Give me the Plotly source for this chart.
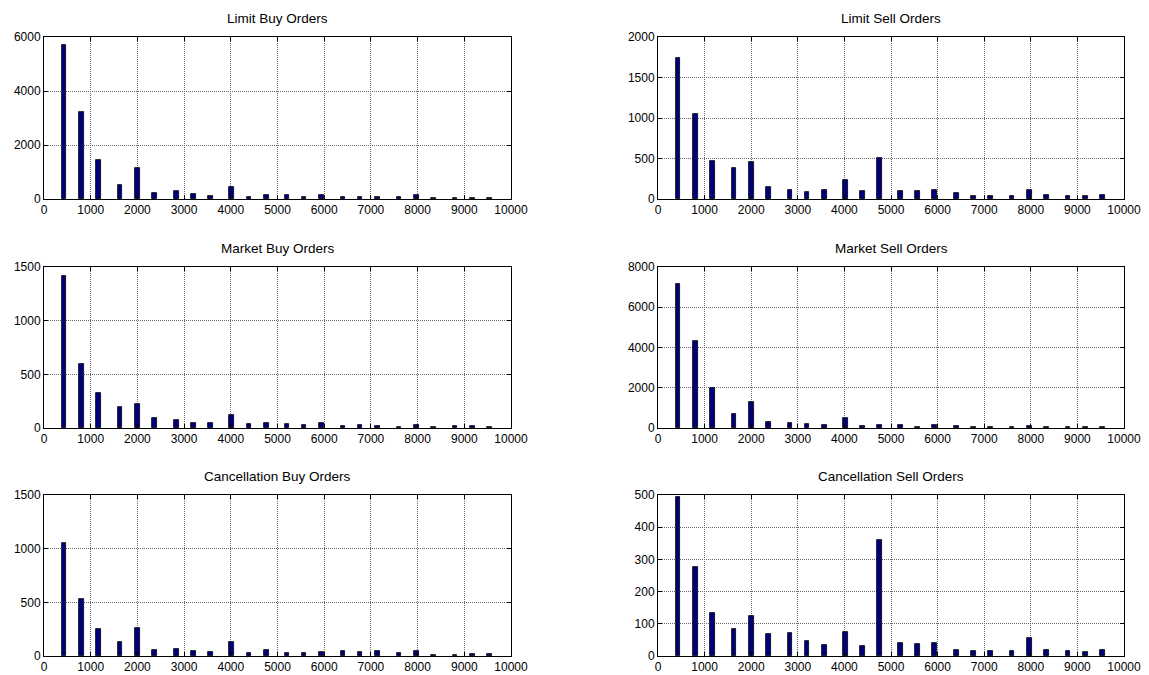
import plotly.graph_objects as go
from plotly.subplots import make_subplots

# bin centres (order size)
bins = [430, 800, 1170, 1630, 2000, 2370, 2830, 3200, 3570, 4020, 4390, 4760,
        5200, 5570, 5940, 6400, 6770, 7140, 7600, 7970, 8340, 8800, 9170, 9540]

limit_buy = [5700, 3210, 1450, 525, 1160, 235, 315, 200, 125, 440, 85, 160,
             160, 85, 160, 85, 85, 85, 85, 135, 37, 37, 37, 37]
limit_sell = [1745, 1048, 468, 383, 457, 144, 115, 87, 115, 239, 103, 510,
              103, 103, 115, 74, 41, 41, 41, 115, 53, 41, 41, 53]
market_buy = [1413, 599, 323, 193, 220, 90, 71, 50, 50, 121, 37, 50,
              37, 28, 50, 19, 28, 19, 9, 28, 9, 19, 19, 9]
market_sell = [7180, 4300, 1967, 700, 1300, 317, 267, 217, 150, 483, 100, 150,
               150, 50, 150, 100, 50, 50, 50, 100, 50, 50, 50, 50]
cancel_buy = [1056, 528, 252, 130, 264, 59, 68, 50, 40, 130, 31, 59,
              31, 31, 40, 50, 40, 50, 31, 50, 9, 9, 22, 22]
cancel_sell = [493, 276, 135, 84, 124, 67, 70, 46, 34, 73, 30, 361,
               40, 36, 40, 20, 16, 16, 16, 57, 20, 16, 13, 20]

titles = ["Limit Buy Orders", "Limit Sell Orders",
          "Market Buy Orders", "Market Sell Orders",
          "Cancellation Buy Orders", "Cancellation Sell Orders"]
series = [limit_buy, limit_sell, market_buy, market_sell, cancel_buy, cancel_sell]
y_max = [6000, 2000, 1500, 8000, 1500, 500]
y_step = [2000, 500, 500, 2000, 500, 100]
x_ticks = list(range(0, 10001, 1000))
x_labels = [str(v) for v in x_ticks]

W, H = 1149, 675
col_px = [(44, 511), (658, 1124)]
row_px = [(37, 199), (267, 428), (495, 656)]

FONT = "Liberation Sans, Arial, Helvetica, sans-serif"

fig = make_subplots(rows=3, cols=2)

for i, (vals, title) in enumerate(zip(series, titles)):
    r, c = i // 2 + 1, i % 2 + 1
    fig.add_trace(go.Bar(x=bins, y=vals, width=100,
                         marker=dict(color="#00007f", line=dict(color="black", width=0.8)),
                         showlegend=False), row=r, col=c)
    x0, x1 = col_px[c - 1]
    y0, y1 = row_px[r - 1]
    xd = [x0 / W, x1 / W]
    yd = [1 - y1 / H, 1 - y0 / H]
    axis_common = dict(showline=True, linecolor="black", linewidth=1, mirror="allticks",
                       ticks="inside", ticklen=4, tickcolor="black", automargin=False,
                       showgrid=True, gridcolor="#6a6a6a", griddash="1px,1px", gridwidth=1,
                       zeroline=False, tickfont=dict(family=FONT, size=12, color="black"))
    yticks = list(range(0, y_max[i] + 1, y_step[i]))
    fig.update_xaxes(domain=xd, range=[0, 10000], tickvals=x_ticks, ticktext=x_labels,
                     **axis_common, row=r, col=c)
    fig.update_yaxes(domain=yd, range=[0, y_max[i]], tickvals=yticks,
                     ticktext=[str(v) for v in yticks], **axis_common, row=r, col=c)
    fig.add_annotation(text=title, x=(xd[0] + xd[1]) / 2, y=1 - (y0 - 18.5) / H,
                       xref="paper", yref="paper", xanchor="center", yanchor="middle",
                       showarrow=False, font=dict(family=FONT, size=13.5, color="black"))

fig.update_layout(width=W, height=H, margin=dict(l=0, r=0, t=0, b=0),
                  paper_bgcolor="white", plot_bgcolor="white", bargap=0)

fig.write_html("out.html")
